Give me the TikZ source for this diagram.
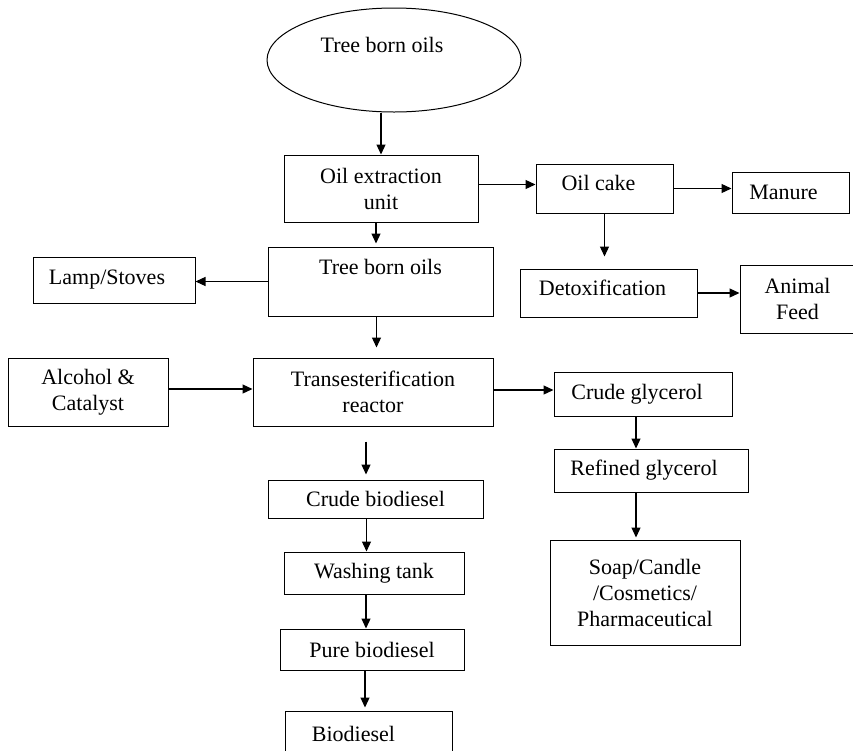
\documentclass[tikz,border=0pt]{standalone}
\usepackage{fontspec}
\setmainfont{Liberation Serif}
\usetikzlibrary{shapes.geometric, arrows.meta}

\begin{document}
\begin{tikzpicture}[x=1pt,y=-1pt,
  box/.style={draw=black, line width=1.0pt, rectangle, align=center, inner sep=0pt, font=\fontsize{22}{26}\selectfont},
  pad/.style={execute at end node={\hspace*{#1}}},
  arr/.style={line width=1.2pt, -{Triangle[length=10pt,width=9pt]}}]
\path[use as bounding box, fill=white] (0,0) rectangle (853,750);
\node[box, ellipse, minimum width=254pt, minimum height=104pt, text depth=30pt, pad=24pt] (oils) at (394.0,60.0) {Tree born oils};
\node[box, minimum width=194pt, minimum height=67pt] (ext) at (381.0,188.5) {Oil extraction\\unit};
\node[box, minimum width=137pt, minimum height=49pt, text depth=11pt, pad=12pt] (cake) at (604.5,188.5) {Oil cake};
\node[box, minimum width=117pt, minimum height=41pt, pad=14pt] (manure) at (790.5,192.5) {Manure};
\node[box, minimum width=225pt, minimum height=69pt, text depth=30pt] (tree) at (380.5,281.5) {Tree born oils};
\node[box, minimum width=162pt, minimum height=46pt, pad=14pt] (lamp) at (114.0,280.0) {Lamp/Stoves};
\node[box, minimum width=177pt, minimum height=48pt, text depth=11pt, pad=12pt] (detox) at (608.5,293.0) {Detoxification};
\node[box, minimum width=115pt, minimum height=68pt] (feed) at (797.5,299.0) {Animal\\Feed};
\node[box, minimum width=160pt, minimum height=68pt] (alc) at (88.0,392.0) {Alcohol \&\\Catalyst};
\node[box, minimum width=240pt, minimum height=68pt] (reactor) at (373.0,392.0) {Transesterification\\reactor};
\node[box, minimum width=178pt, minimum height=44pt, pad=12pt] (cglyc) at (643.0,394.0) {Crude glycerol};
\node[box, minimum width=194pt, minimum height=43pt, pad=14pt] (rglyc) at (651.0,470.5) {Refined glycerol};
\node[box, minimum width=190pt, minimum height=105pt] (soap) at (645.0,592.5) {Soap/Candle\\/Cosmetics/\\Pharmaceutical};
\node[box, minimum width=215pt, minimum height=38pt] (cbio) at (375.5,499.0) {Crude biodiesel};
\node[box, minimum width=180pt, minimum height=42pt] (wash) at (374.0,573.0) {Washing tank};
\node[box, minimum width=184pt, minimum height=41pt] (pure) at (372.0,649.5) {Pure biodiesel};
\node[box, minimum width=167pt, minimum height=45pt, pad=30pt] (biod) at (368.5,733.5) {Biodiesel};
\draw[arr] (ext.north |- oils.south) -- (ext.north);
\draw[arr] ([yshift=4pt]ext.east) -- ([yshift=4pt]ext.east -| cake.west);
\draw[arr] (cake.east) -- (cake.east -| manure.west);
\draw[arr, shorten >=12pt] (cake.south) -- (cake.south |- detox.north);
\draw[arr, shorten >=3pt] ([xshift=-5pt]ext.south) -- ([xshift=-5pt]ext.south |- tree.north);
\draw[arr] (tree.west) -- (tree.west -| lamp.east);
\draw[arr] (detox.east) -- (detox.east -| feed.west);
\draw[arr, shorten >=10pt] ([xshift=-4pt]tree.south) -- ([xshift=-4pt]tree.south |- reactor.north);
\draw[arr] ([yshift=3pt]alc.east) -- ([yshift=3pt]reactor.west);
\draw[arr] ([yshift=2pt]reactor.east) -- ([yshift=2pt]reactor.east -| cglyc.west);
\draw[arr] ([xshift=-7pt]cglyc.south) -- ([xshift=-7pt]cglyc.south |- rglyc.north);
\draw[arr, shorten >=2pt] ([xshift=-9pt]soap.north |- rglyc.south) -- ([xshift=-9pt]soap.north);
\draw[arr, shorten <=15pt, shorten >=5pt] ([xshift=-7pt]reactor.south) -- ([xshift=-7pt]reactor.south |- cbio.north);
\draw[arr] ([xshift=-9pt]cbio.south) -- ([xshift=-9pt]cbio.south |- wash.north);
\draw[arr] ([xshift=-8pt]wash.south) -- ([xshift=-8pt]wash.south |- pure.north);
\draw[arr, shorten >=3pt] ([xshift=-7pt]pure.south) -- ([xshift=-7pt]pure.south |- biod.north);
\end{tikzpicture}
\end{document}
